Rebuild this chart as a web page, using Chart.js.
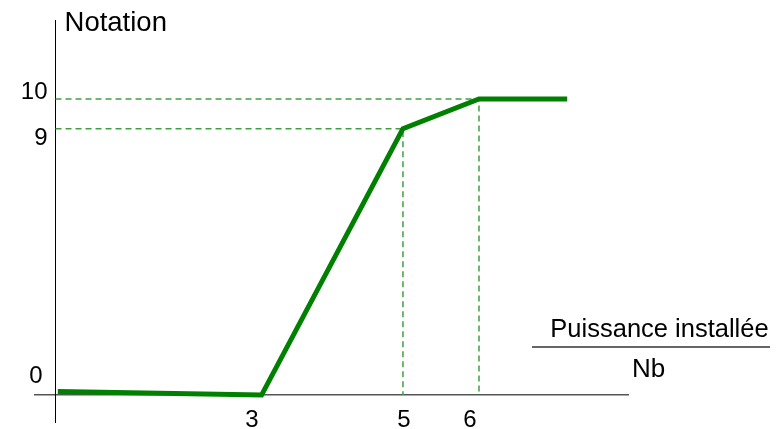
<!DOCTYPE html>
<html>
<head>
<meta charset="utf-8">
<script src="https://cdn.jsdelivr.net/npm/chart.js@4"></script>
<style>
  html, body { margin: 0; padding: 0; background: #fff; }
  #wrap { width: 778px; height: 429px; position: relative; }
</style>
</head>
<body>
<div id="wrap"><canvas id="chart"></canvas></div>
<script>
// notation curve (x = puissance installée / Nb, y = notation)
const curveX = [0.46, 3.14, 5, 6, 7.16];
const curveY = [0.12, 0, 9, 10, 10];

// dashed guides from the y axis to the breakpoints
const guideX = [5, 6];
const guideY = [9, 10];

// tick labels
const xTicks = [3, 5, 6];
const yTicks = [0, 9, 10];

const yAxisAt = 0.43;   // x value where the vertical axis crosses
const FONT = '"Liberation Sans", Arial, sans-serif';

const toPoints = (xs, ys) => xs.map((x, i) => ({ x, y: ys[i] }));

const guideSets = guideX.map((gx, i) => ({
  data: toPoints([yAxisAt, gx, gx], [guideY[i], guideY[i], 0]),
  borderColor: '#3fa03f',
  borderWidth: 1.5,
  borderDash: [6, 4],
  pointRadius: 0,
  order: 1
}));

// labels, axis titles - drawn on top using the scales
const labelsPlugin = {
  id: 'labels',
  afterDraw(chart) {
    const { ctx, scales: { x, y } } = chart;
    const axisPx = x.getPixelForValue(yAxisAt);
    const baseY = y.getPixelForValue(0);
    ctx.save();
    ctx.fillStyle = '#000';

    // y tick labels (nudged like the original drawing)
    const yNudge = { 0: [-13, -12.5], 9: [-8, 16], 10: [-8, 0] };
    ctx.font = `24px ${FONT}`;
    ctx.textAlign = 'right';
    ctx.textBaseline = 'alphabetic';
    yTicks.forEach(v => {
      const [dx, dy] = yNudge[v];
      ctx.fillText(String(v), axisPx + dx, y.getPixelForValue(v) + dy);
    });

    // x tick labels
    const xNudge = { 3: 1, 5: 1, 6: -9 };
    ctx.textAlign = 'center';
    xTicks.forEach(v => {
      ctx.fillText(String(v), x.getPixelForValue(v) + xNudge[v], baseY + 32);
    });

    // y title
    ctx.font = `27.5px ${FONT}`;
    ctx.textAlign = 'left';
    ctx.fillText('Notation', axisPx + 9, 31);

    // x title as a fraction
    ctx.font = `25.5px ${FONT}`;
    ctx.textAlign = 'center';
    ctx.fillText('Puissance installée', 659.5, 336.5);
    ctx.font = `26px ${FONT}`;
    ctx.fillText('Nb', 648.5, 377);
    ctx.strokeStyle = '#333';
    ctx.lineWidth = 1.5;
    ctx.beginPath();
    ctx.moveTo(532, 347);
    ctx.lineTo(770, 347);
    ctx.stroke();

    ctx.restore();
  }
};

new Chart(document.getElementById('chart'), {
  type: 'line',
  data: {
    datasets: [
      {
        data: toPoints(curveX, curveY),
        borderColor: '#008000',
        borderWidth: 5,
        pointRadius: 0,
        tension: 0,
        order: 0
      },
      ...guideSets
    ]
  },
  options: {
    responsive: true,
    maintainAspectRatio: false,
    animation: false,
    layout: { padding: { left: 35, right: 150, top: 20, bottom: 7 } },
    plugins: {
      legend: { display: false },
      tooltip: { enabled: false }
    },
    scales: {
      x: {
        type: 'linear',
        min: 0.16,
        max: 7.96,
        position: { y: 0 },
        grid: { display: false, drawTicks: false },
        ticks: { display: false },
        border: { color: '#555', width: 1.5 }
      },
      y: {
        type: 'linear',
        min: -0.91,
        max: 12.67,
        position: { x: yAxisAt },
        grid: { display: false, drawTicks: false },
        ticks: { display: false },
        border: { color: '#000', width: 1 }
      }
    }
  },
  plugins: [labelsPlugin]
});
</script>
</body>
</html>
